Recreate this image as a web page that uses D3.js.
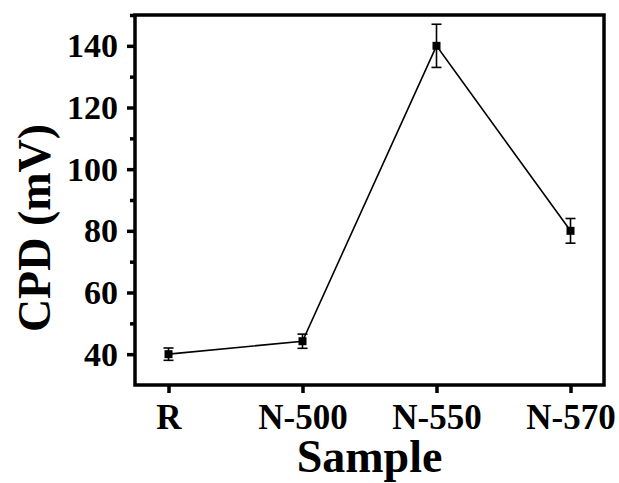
<!DOCTYPE html>
<html>
<head>
<meta charset="utf-8">
<script src="https://cdn.jsdelivr.net/npm/d3@7"></script>
<style>
  body { margin: 0; background: #fff; }
  text { font-family: "Liberation Serif", "Times New Roman", serif; font-weight: bold; }
</style>
</head>
<body>
<script>
var samples = ["R", "N-500", "N-550", "N-570"];
var cpd = [40, 44.2, 140, 80];
var cpdErr = [2, 2.3, 7, 4];
var yTicks = [40, 60, 80, 100, 120, 140];
var yMinorTicks = [50, 70, 90, 110, 130, 150];

var margin = {top: 15, right: 15, bottom: 98, left: 135},
  width = 619 - margin.left - margin.right,
  height = 483 - margin.top - margin.bottom;

var x = d3.scalePoint().domain(samples).range([0, width]).padding(0.25);
var y = d3.scaleLinear().domain([30, 150]).range([height, 0]);

var svg = d3.select("body").append("svg")
  .attr("width", 619)
  .attr("height", 483)
  .append("g")
  .attr("transform", "translate(" + margin.left + "," + margin.top + ")");

// frame
svg.append("rect")
  .attr("width", width)
  .attr("height", height)
  .attr("fill", "none")
  .attr("stroke", "#000")
  .attr("stroke-width", 3.5);

var yAxis = svg.append("g")
  .call(d3.axisLeft(y).tickValues(yTicks).tickSize(8).tickPadding(9).tickSizeOuter(0));
svg.append("g")
  .call(d3.axisLeft(y).tickValues(yMinorTicks).tickSize(5).tickFormat("").tickSizeOuter(0));

var xAxis = svg.append("g")
  .attr("transform", "translate(0," + height + ")")
  .call(d3.axisBottom(x).tickSize(8).tickSizeOuter(0));

svg.selectAll(".domain").remove();
svg.selectAll(".tick line").attr("stroke-width", 3.5);
yAxis.selectAll("text").style("font-size", "34px").attr("fill", "#000");
xAxis.selectAll("text").style("font-size", "35px").attr("fill", "#000")
  .attr("dy", 0).attr("y", 44);

// data line
svg.append("path")
  .datum(samples)
  .attr("fill", "none")
  .attr("stroke", "#000")
  .attr("stroke-width", 1.6)
  .attr("d", d3.line()
    .x(function (d) { return x(d); })
    .y(function (d, i) { return y(cpd[i]); }));

// error bars
var err = svg.selectAll(".err")
  .data(samples)
  .enter().append("g")
  .attr("stroke", "#000")
  .attr("stroke-width", 1.6);
err.append("line")
  .attr("x1", function (d) { return x(d); })
  .attr("x2", function (d) { return x(d); })
  .attr("y1", function (d, i) { return y(cpd[i] + cpdErr[i]); })
  .attr("y2", function (d, i) { return y(cpd[i] - cpdErr[i]); });
err.append("line")
  .attr("x1", function (d) { return x(d) - 5; })
  .attr("x2", function (d) { return x(d) + 5; })
  .attr("y1", function (d, i) { return y(cpd[i] + cpdErr[i]); })
  .attr("y2", function (d, i) { return y(cpd[i] + cpdErr[i]); });
err.append("line")
  .attr("x1", function (d) { return x(d) - 5; })
  .attr("x2", function (d) { return x(d) + 5; })
  .attr("y1", function (d, i) { return y(cpd[i] - cpdErr[i]); })
  .attr("y2", function (d, i) { return y(cpd[i] - cpdErr[i]); });

// markers
svg.selectAll(".pt")
  .data(samples)
  .enter().append("rect")
  .attr("x", function (d) { return x(d) - 4; })
  .attr("y", function (d, i) { return y(cpd[i]) - 4; })
  .attr("width", 8)
  .attr("height", 8)
  .attr("fill", "#000");

// axis titles
svg.append("text")
  .attr("x", width / 2)
  .attr("y", 472 - margin.top)
  .attr("text-anchor", "middle")
  .style("font-size", "46px")
  .text("Sample");

svg.append("text")
  .attr("transform", "translate(" + (50 - margin.left) + "," + (228 - margin.top) + ") rotate(-90)")
  .attr("text-anchor", "middle")
  .style("font-size", "46px")
  .text("CPD (mV)");
</script>
</body>
</html>
